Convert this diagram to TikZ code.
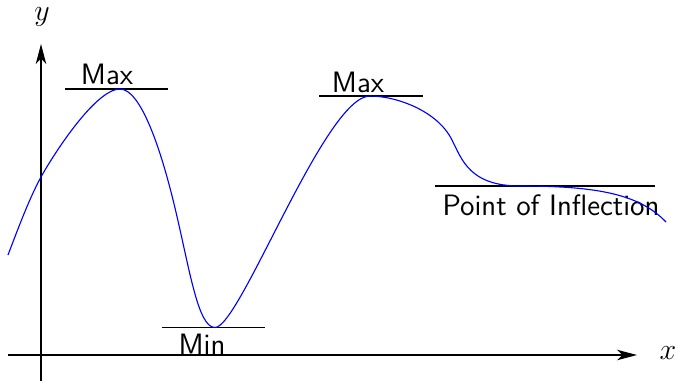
\documentclass[tikz,border=0pt]{standalone}
\usetikzlibrary{arrows.meta}
\begin{document}
\begin{tikzpicture}[x=0.4pt,y=-0.4pt,
  axis/.style={line width=0.5pt,-{Stealth[length=8pt,width=4.2pt,inset=2.2pt]}},
  tangent/.style={line width=0.45pt},
  curvestyle/.style={blue,line width=0.45pt},
  every node/.style={font=\fontsize{11.8}{14}\selectfont},
  axlbl/.style={inner sep=0pt},
  lbl/.style={font=\fontsize{11.8}{14}\selectfont\sffamily,inner sep=0pt,anchor=base}]
\useasboundingbox (0,0) rectangle (678,381);
% axes
\coordinate (xs) at (8,355);
\coordinate (xe) at (637,355);
\coordinate (ys) at (41,381);
\coordinate (ye) at (41,44);
\draw[axis] (xs) -- (xe);
\draw[axis] (ys) -- (ye);
\node[axlbl] (xl) at (668,353) {$x$};
\node[axlbl] (yl) at (42,17) {$y$};
% tangent lines
\coordinate (m1a) at (65,89);  \coordinate (m1b) at (168,89);
\coordinate (m2a) at (319,96); \coordinate (m2b) at (423,96);
\coordinate (mna) at (162,327.5); \coordinate (mnb) at (265,327.5);
\coordinate (pia) at (435,186); \coordinate (pib) at (655,186);
\draw[tangent] (m1a) -- (m1b);
\draw[tangent] (m2a) -- (m2b);
\draw[tangent] (mna) -- (mnb);
\draw[tangent] (pia) -- (pib);
% labels
\node[lbl] (max1) at (107,84) {Max};
\node[lbl] (max2) at (358,92) {Max};
\node[lbl] (min) at (202,354) {Min};
\node[lbl] (poi) at (551,215) {Point of Inflection};
% curve
\draw[curvestyle] (8,255) .. controls (19,226) and (30,197) .. (41,177)
  .. controls (52,157) and (95,89) .. (120,89)
  .. controls (140,89) and (160,145) .. (175,208)
  .. controls (190,271) and (198,327.5) .. (215,327.5)
  .. controls (240,327.5) and (325,96) .. (370,96)
  .. controls (395,96) and (437,110) .. (452,140)
  .. controls (462,160) and (470,186) .. (520,186)
  .. controls (600,186) and (640,195) .. (666,222);
\end{tikzpicture}
\end{document}
